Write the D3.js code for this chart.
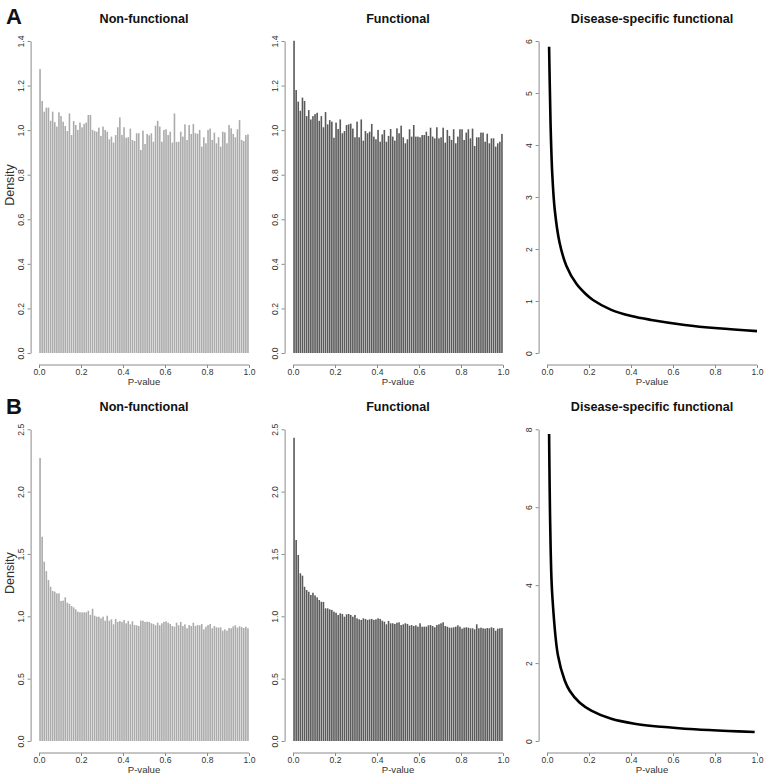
<!DOCTYPE html>
<html><head><meta charset="utf-8">
<script src="https://cdn.jsdelivr.net/npm/d3@7"></script>
<style>
body{margin:0;background:#fff}
svg{display:block}
text{font-family:"Liberation Sans",Arial,Helvetica,sans-serif}
</style>
</head><body>
<svg id="chart" width="767" height="777"></svg>
<script>
// ---------- data ----------
const panelTitles = ["Non-functional", "Functional", "Disease-specific functional"];
const rowLabels = ["A", "B"];
const binWidth = 0.01;
const binLowerEdges = d3.range(100).map(i => i / 100);

const aNonFunctional = [
1.274,1.131,1.083,1.101,1.101,1.042,1.083,1.036,1.016,1.080,
1.063,1.038,1.019,0.996,1.075,0.978,1.041,1.023,1.001,1.034,
1.013,1.028,1.034,1.068,1.068,1.001,0.996,0.993,1.011,0.974,
1.016,1.001,0.993,0.959,0.971,0.944,0.978,1.013,1.057,0.978,
1.013,0.966,0.968,1.007,0.956,0.951,0.986,0.986,0.911,0.998,
0.938,0.983,0.977,0.986,0.948,1.020,1.042,1.016,0.948,1.001,
1.004,0.978,0.993,0.944,1.075,0.947,0.948,0.993,0.971,1.026,
0.956,1.023,0.983,1.028,0.986,0.984,1.001,0.926,0.968,0.941,
1.001,1.007,0.956,0.989,0.941,0.968,0.926,0.993,0.990,0.941,
1.023,1.008,0.983,0.968,1.004,1.045,0.956,0.951,0.978,0.981];

const aFunctional = [
1.401,1.180,1.128,1.087,1.146,1.131,1.063,1.090,1.048,1.063,
1.072,1.078,1.042,1.063,1.013,1.081,1.026,1.045,1.038,0.966,
1.034,1.005,1.048,0.986,0.996,1.023,1.026,1.029,1.007,0.968,
1.038,0.968,1.048,0.953,0.996,0.986,0.993,1.028,0.971,0.959,
1.001,0.948,0.981,1.001,0.948,0.974,1.005,0.971,0.953,1.008,
0.986,1.020,0.968,0.941,0.959,1.004,0.971,1.023,0.971,0.971,
0.968,0.978,0.978,0.993,0.974,1.011,0.971,0.963,1.013,0.963,
0.968,1.011,0.944,1.001,0.974,0.956,1.004,0.941,0.971,1.004,
1.004,0.956,0.989,1.004,0.963,1.007,0.929,0.968,0.968,0.989,
0.989,0.948,0.984,0.941,0.963,0.963,0.926,0.941,0.948,0.983];

const bNonFunctional = [
2.270,1.638,1.438,1.363,1.291,1.237,1.203,1.198,1.184,1.184,
1.123,1.126,1.152,1.110,1.099,1.083,1.072,1.056,1.037,1.032,
1.032,1.032,1.032,1.045,1.011,1.061,1.005,0.997,0.997,0.984,
0.997,0.965,1.005,0.965,0.976,0.936,0.979,0.955,0.963,0.955,
0.971,0.944,0.963,0.936,0.960,0.930,0.928,0.922,0.965,0.965,
0.955,0.957,0.955,0.944,0.939,0.928,0.949,0.928,0.944,0.955,
0.960,0.949,0.939,0.922,0.917,0.949,0.928,0.955,0.922,0.936,
0.904,0.930,0.922,0.949,0.922,0.930,0.928,0.939,0.896,0.917,
0.930,0.939,0.904,0.922,0.912,0.909,0.912,0.885,0.896,0.885,
0.906,0.904,0.920,0.928,0.909,0.920,0.914,0.906,0.917,0.904];

const bFunctional = [
2.432,1.612,1.492,1.345,1.326,1.237,1.211,1.197,1.171,1.189,
1.168,1.152,1.131,1.117,1.115,1.064,1.064,1.056,1.051,1.037,
1.029,1.011,1.024,1.019,0.997,1.016,1.019,1.011,0.997,1.011,
0.984,0.976,0.971,0.984,0.979,0.971,0.976,0.979,0.971,0.976,
0.984,0.979,0.965,0.957,0.936,0.963,0.944,0.944,0.939,0.949,
0.952,0.930,0.936,0.944,0.939,0.925,0.930,0.922,0.928,0.917,
0.944,0.917,0.917,0.917,0.928,0.930,0.922,0.912,0.930,0.936,
0.944,0.952,0.922,0.917,0.909,0.909,0.912,0.917,0.928,0.917,
0.901,0.909,0.912,0.909,0.904,0.904,0.896,0.936,0.904,0.909,
0.904,0.901,0.906,0.904,0.912,0.906,0.885,0.901,0.904,0.906];

const aDiseaseP       = [0.010,0.013,0.017,0.025,0.037,0.060,0.092,0.140,0.183,0.219,0.306,0.402,0.497,0.656,0.814,1.000];
const aDiseaseDensity = [5.89, 5.20, 4.40, 3.45, 2.75, 2.12, 1.68, 1.33, 1.14, 1.02, 0.83, 0.71, 0.635,0.54, 0.475,0.42];
const bDiseaseP       = [0.010,0.0127,0.0175,0.025,0.052,0.084,0.108,0.156,0.211,0.306,0.417,0.544,0.703,0.862,0.989];
const bDiseaseDensity = [7.88, 6.50,  4.90,  3.75, 2.20, 1.56, 1.29, 0.98, 0.78, 0.57, 0.445,0.365,0.30, 0.257,0.232];

const xTicks = [0, 0.2, 0.4, 0.6, 0.8, 1.0];
const histTicksA = [0, 0.2, 0.4, 0.6, 0.8, 1.0, 1.2, 1.4];
const histTicksB = [0, 0.5, 1.0, 1.5, 2.0, 2.5];
const diseaseTicksA = [0, 1, 2, 3, 4, 5, 6];
const diseaseTicksB = [0, 2, 4, 6, 8];

// ---------- layout ----------
const svg = d3.select("#chart");
const colLeft = [30.6, 284.6, 538.6];
const plotW = 226.8;
const rowsCfg = [
  {zero: 353, top: 41, label: "A", labelY: 23.5, titleY: 23.3},
  {zero: 741, top: 429.3, label: "B", labelY: 414, titleY: 411.3}
];
const axisCol = "#8a8a8a", textCol = "#333";

const panels = [
  {row: 0, col: 0, type: "hist", data: aNonFunctional, ticks: histTicksA, fill: "#ababab", fmt: d3.format(".1f")},
  {row: 0, col: 1, type: "hist", data: aFunctional, ticks: histTicksA, fill: "#5a5a5a", fmt: d3.format(".1f")},
  {row: 0, col: 2, type: "curve", p: aDiseaseP, v: aDiseaseDensity, ticks: diseaseTicksA, fmt: d3.format("d")},
  {row: 1, col: 0, type: "hist", data: bNonFunctional, ticks: histTicksB, fill: "#ababab", fmt: d3.format(".1f")},
  {row: 1, col: 1, type: "hist", data: bFunctional, ticks: histTicksB, fill: "#5a5a5a", fmt: d3.format(".1f")},
  {row: 1, col: 2, type: "curve", p: bDiseaseP, v: bDiseaseDensity, ticks: diseaseTicksB, fmt: d3.format("d")}
];

rowsCfg.forEach(r => {
  svg.append("text").attr("x", 6).attr("y", r.labelY)
    .attr("font-size", 22).attr("font-weight", "bold").attr("fill", "#111").text(r.label);
});

panels.forEach(pn => {
  const r = rowsCfg[pn.row];
  const left = colLeft[pn.col];
  const g = svg.append("g");
  const x = d3.scaleLinear().domain([-0.04, 1.04]).range([left, left + plotW]);
  const yMax = pn.ticks[pn.ticks.length - 1];
  const y = d3.scaleLinear().domain([0, yMax]).range([r.zero, r.top]);
  const axisY = r.zero + 12;

  g.append("text").attr("x", left + plotW / 2).attr("y", r.titleY)
    .attr("text-anchor", "middle").attr("font-size", 12.6).attr("font-weight", "bold")
    .attr("fill", "#111").text(panelTitles[pn.col]);

  if (pn.type === "hist") {
    const bw = x(binWidth) - x(0);
    g.append("g").selectAll("rect").data(pn.data).join("rect")
      .attr("x", (d, i) => x(binLowerEdges[i]) + 0.25)
      .attr("width", bw - 0.5)
      .attr("y", d => y(d))
      .attr("height", d => r.zero - y(d))
      .attr("fill", pn.fill);
  } else {
    const pts = pn.p.map((p, i) => [p, pn.v[i]]);
    g.append("path").datum(pts)
      .attr("d", d3.line().x(d => x(d[0])).y(d => y(d[1])).curve(d3.curveCatmullRom.alpha(0.5)))
      .attr("fill", "none").attr("stroke", "#000").attr("stroke-width", 2.6)
      .attr("stroke-linejoin", "round");
  }

  const ya = g.append("g").attr("transform", `translate(${left},0)`)
    .call(d3.axisLeft(y).tickValues(pn.ticks).tickSize(3).tickSizeOuter(0).tickFormat(pn.fmt));
  ya.select(".domain").attr("stroke", axisCol);
  ya.selectAll(".tick line").attr("stroke", axisCol);
  ya.selectAll(".tick text").attr("x", null).attr("dy", null)
    .attr("transform", "translate(-7,0) rotate(-90)").attr("text-anchor", "middle")
    .attr("font-size", 8.6).attr("fill", textCol).attr("font-family", null);

  const xa = g.append("g").attr("transform", `translate(0,${axisY})`)
    .call(d3.axisBottom(x).tickValues(xTicks).tickSize(3).tickFormat(d3.format(".1f")));
  xa.select(".domain").remove();
  xa.append("line").attr("x1", x(0)).attr("x2", x(1)).attr("stroke", axisCol);
  xa.selectAll(".tick line").attr("stroke", axisCol);
  xa.selectAll(".tick text").attr("y", 9.5).attr("dy", null)
    .attr("font-size", 8.6).attr("fill", textCol).attr("font-family", null);

  g.append("text").attr("x", x(0.5)).attr("y", axisY + 19.5)
    .attr("text-anchor", "middle").attr("font-size", 9.6).attr("fill", textCol).text("P-value");

  if (pn.col === 0) {
    g.append("text").attr("transform", `translate(14,${(r.zero + r.top) / 2 - 12}) rotate(-90)`)
      .attr("text-anchor", "middle").attr("font-size", 12.5).attr("fill", textCol).text("Density");
  }
});
</script>
</body></html>
